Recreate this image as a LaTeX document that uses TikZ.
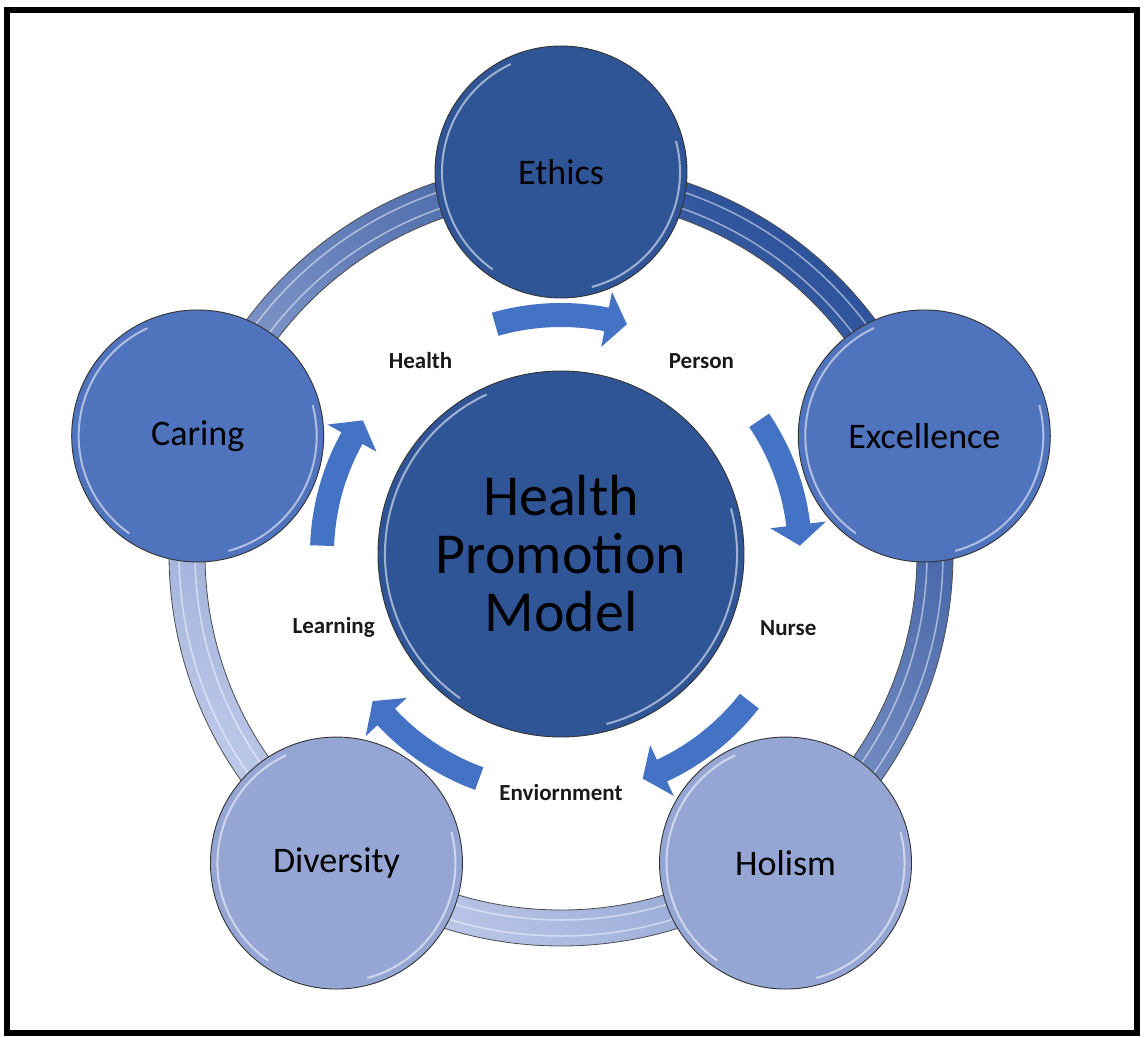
\documentclass[tikz,border=0pt]{standalone}
\usepackage{fontspec}
\setmainfont{Carlito}
\usepackage{tikz}

\definecolor{darkblue}{RGB}{47,85,151}
\definecolor{midblue}{RGB}{80,115,190}
\definecolor{paleblue}{RGB}{149,166,212}
\definecolor{flowblue}{RGB}{68,114,196}
\definecolor{ringdark}{RGB}{45,82,155}
\definecolor{ringpale}{RGB}{192,203,235}

\tikzset{
  value/.style={circle, draw=black!80, line width=0.9pt, minimum size=252pt, inner sep=0pt,
    font=\fontsize{36}{40}\selectfont},
  core/.style={circle, draw=black!80, line width=0.9pt, minimum size=366pt, inner sep=0pt,
    fill=darkblue, align=center, font=\fontsize{58}{58}\selectfont},
  concept/.style={font=\bfseries\fontsize{23}{25}\selectfont, text=black!90},
  flow/.style={fill=flowblue},
  rim/.style={white, opacity=0.55, line width=2pt}
}

\begin{document}
\begin{tikzpicture}[x=1pt,y=1pt]
\useasboundingbox (-561,554) rectangle (582,-482);
\draw[line width=6pt] (-553.5,544) rectangle (576,-479);
\pgfmathsetmacro\R{374}
\pgfmathsetmacro\w{18}
\coordinate (O) at (0,0);
% ring behind the five values
\shade[even odd rule, top color=ringdark, bottom color=ringpale, shading angle=-40]
  (O) circle[radius=\R+\w] (O) circle[radius=\R-\w];
\draw[black!70, line width=0.8pt] (O) circle[radius=\R+\w] (O) circle[radius=\R-\w];
\draw[white, opacity=.5, line width=1.5pt] (O) circle[radius=\R-8] (O) circle[radius=\R+8];
% curved arrows
\pgfmathsetmacro\ra{251}
\pgfmathsetmacro\rb{227}
\pgfmathsetmacro\rc{239}
\pgfmathsetmacro\rd{267}
\pgfmathsetmacro\re{211}
\foreach \t in {90,18,-54,-126,162}
  \fill[flow] (\t+16:\ra) arc[start angle=\t+16, end angle=\t-11, radius=\ra]
    -- (\t-11:\rd) -- (\t-16:\rc) -- (\t-11:\re) -- (\t-11:\rb)
    arc[start angle=\t-11, end angle=\t+16, radius=\rb] -- cycle;
% circles
\node[core] (hpm) at (O) {Health\\Promo\kern0pt tion\\Model};
\node[value, fill=darkblue] (ethics) at (90:382) {Ethics};
\node[value, fill=midblue] (excellence) at (18:382) {Excellence};
\node[value, fill=paleblue] (holism) at (-54:382) {Holism};
\node[value, fill=paleblue] (diversity) at (-126:382) {Diversity};
\node[value, fill=midblue] (caring) at (162:382) {Caring};
\foreach \n in {ethics,excellence,holism,diversity,caring} {
  \draw[rim] (\n.center) ++(115:119) arc[start angle=115, end angle=235, radius=119];
  \draw[rim] (\n.center) ++(-75:119) arc[start angle=-75, end angle=15, radius=119];
}
\draw[rim] (hpm.center) ++(115:176) arc[start angle=115, end angle=235, radius=176];
\draw[rim] (hpm.center) ++(-75:176) arc[start angle=-75, end angle=15, radius=176];
% labels
\node[concept] (health) at (126:239) {Health};
\node[concept] (person) at (54:239) {Person};
\node[concept] (nurse) at (-18:239) {Nurse};
\node[concept] (enviornment) at (-90:239) {Enviornment};
\node[concept] (learning) at (198:239) {Learning};
\end{tikzpicture}
\end{document}
